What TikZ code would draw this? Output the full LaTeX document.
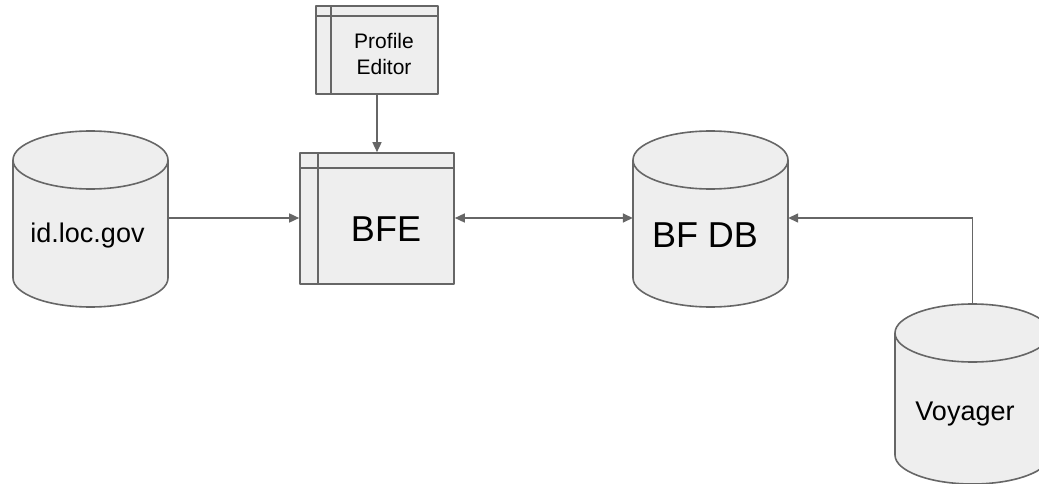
\documentclass[tikz,border=0pt]{standalone}
\usepackage{fontspec}
\setmainfont{Liberation Sans}
\usetikzlibrary{arrows.meta}
\definecolor{shapefill}{HTML}{EEEEEE}
\definecolor{stroke}{HTML}{666666}
\tikzset{
  shapeline/.style={draw=stroke, line width=1.6pt, line join=round},
  cylbody/.style={shapeline, fill=shapefill},
  anchorbox/.style={draw=none, inner sep=0pt, minimum width=155pt},
  winbox/.style={shapeline, fill=shapefill, inner sep=0pt},
  conn/.style={draw=stroke, line width=1.5pt, -{Triangle[length=10pt,width=9pt]}},
  bigtext/.style={anchor=base, font=\fontsize{36}{40}\selectfont, inner sep=0pt},
  midtext/.style={anchor=base, font=\fontsize{27}{30}\selectfont, inner sep=0pt},
  smalltext/.style={anchor=base, font=\fontsize{21}{26}\selectfont, inner sep=0pt}
}
\begin{document}
\begin{tikzpicture}[x=1pt,y=1pt]
\useasboundingbox (0,0) rectangle (1039,-484);

% id.loc.gov cylinder
\draw[cylbody] (13,-160) -- (13,-278) arc[start angle=180,end angle=360,x radius=77.5,y radius=29] -- (168,-160) arc[start angle=0,end angle=180,x radius=77.5,y radius=29] -- cycle;
\draw[shapeline] (13,-160) arc[start angle=180,end angle=360,x radius=77.5,y radius=29];
\node[anchorbox, minimum height=176pt] (idloc) at (90.5,-218) {};
\node[midtext] (idloctext) at (87.5,-242) {id.loc.gov};

% BF DB cylinder
\draw[cylbody] (633,-160) -- (633,-278) arc[start angle=180,end angle=360,x radius=77.5,y radius=29] -- (788,-160) arc[start angle=0,end angle=180,x radius=77.5,y radius=29] -- cycle;
\draw[shapeline] (633,-160) arc[start angle=180,end angle=360,x radius=77.5,y radius=29];
\node[anchorbox, minimum height=176pt] (bfdb) at (710.5,-218) {};
\node[bigtext] (bfdbtext) at (705,-247) {BF DB};

% Voyager cylinder
\draw[cylbody] (895,-333) -- (895,-455) arc[start angle=180,end angle=360,x radius=77.5,y radius=29] -- (1050,-333) arc[start angle=0,end angle=180,x radius=77.5,y radius=29] -- cycle;
\draw[shapeline] (895,-333) arc[start angle=180,end angle=360,x radius=77.5,y radius=29];
\node[anchorbox, minimum height=180pt] (voy) at (972.5,-394) {};
\node[midtext] (voytext) at (965,-420) {Voyager};

% Profile Editor window box
\node[winbox, minimum width=122pt, minimum height=88pt] (pe) at (377,-50) {};
\draw[shapeline] ([xshift=16pt]pe.north west) -- ([xshift=16pt]pe.south west);
\draw[shapeline] ([yshift=-11pt]pe.north west) -- ([yshift=-11pt]pe.north east);
\node[smalltext] (pe1) at (384,-49) {Profile};
\node[smalltext] (pe2) at (384,-75) {Editor};

% BFE window box
\node[winbox, minimum width=154pt, minimum height=131pt] (bfe) at (377,-218.5) {};
\draw[shapeline] ([xshift=19pt]bfe.north west) -- ([xshift=19pt]bfe.south west);
\draw[shapeline] ([yshift=-16pt]bfe.north west) -- ([yshift=-16pt]bfe.north east);
\node[bigtext] (bfetext) at (386,-241) {BFE};

% connectors
\draw[conn] (pe.south) -- (bfe.north);
\draw[conn] (idloc.east) -- (bfe.west |- idloc.east);
\draw[conn, {Triangle[length=10pt,width=9pt]}-{Triangle[length=10pt,width=9pt]}] (bfe.east |- bfdb.west) -- (bfdb.west);
\draw[conn] (voy.north) |- (bfdb.east);
\end{tikzpicture}
\end{document}
